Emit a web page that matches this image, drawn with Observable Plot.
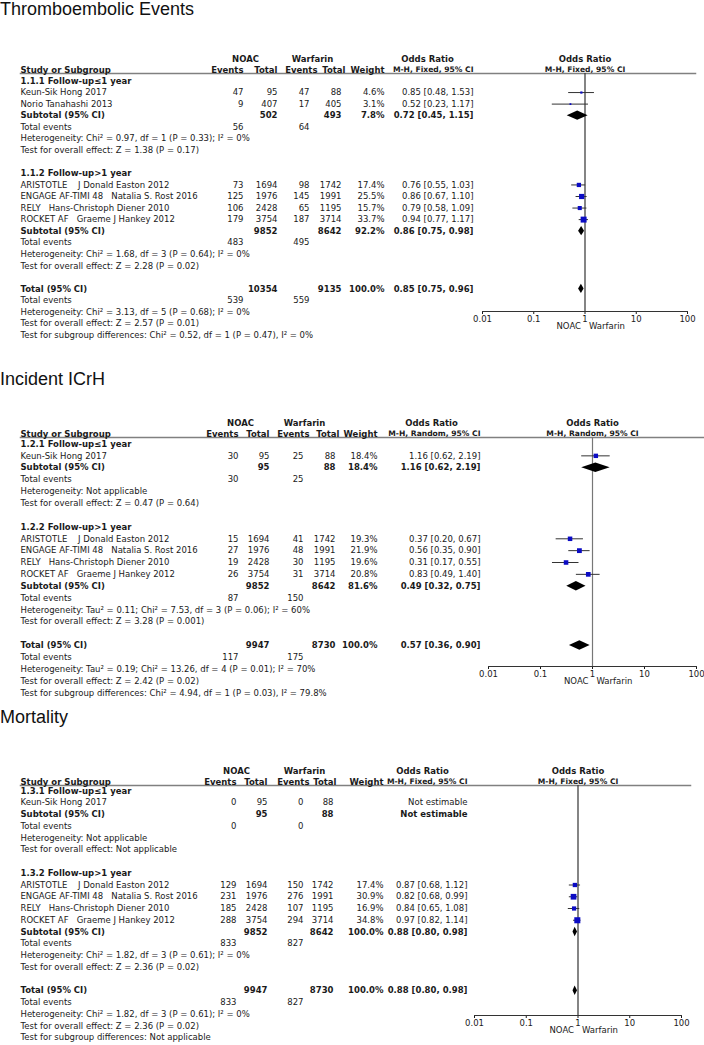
<!DOCTYPE html>
<html><head><meta charset="utf-8">
<script src="https://cdn.jsdelivr.net/npm/d3@7"></script>
<script src="https://cdn.jsdelivr.net/npm/@observablehq/plot@0.6"></script>
<style>
body{margin:0;background:#fff;}
#root{position:relative;width:704px;height:1045px;overflow:hidden;background:#fff;}
.title{position:absolute;left:0;font-family:"Liberation Sans",Arial,sans-serif;font-size:18px;line-height:18px;color:#111;white-space:nowrap;}
svg text{white-space:pre;}
</style></head><body><div id="root"></div><script>
// ---------- shared labels ----------
const TICKS = [0.01, 0.1, 1, 10, 100];
const TICK_LABELS = ["0.01", "0.1", "1", "10", "100"];
const NULL_OR = 1;
const FAVOURS = ["NOAC", "Warfarin"];
const HEAD_TOP = ["NOAC", "Warfarin", "Odds Ratio"];
const HEAD_COLS = ["Study or Subgroup", "Events", "Total", "Events", "Total", "Weight"];

// ---------- Panel 1: Thromboembolic Events ----------
const teTitle = "Thromboembolic Events";
const teMethod = "M-H, Fixed, 95% CI";
const teGroups = ["1.1.1 Follow-up≤1 year", "1.1.2 Follow-up>1 year"];
// [group, study, NOAC events, NOAC total, Warfarin events, Warfarin total, weight %, OR, lower, upper]
const teStudies = [
  [0, "Keun-Sik Hong 2017", 47, 95, 47, 88, 4.6, 0.85, 0.48, 1.53],
  [0, "Norio Tanahashi 2013", 9, 407, 17, 405, 3.1, 0.52, 0.23, 1.17],
  [1, "ARISTOTLE    J Donald Easton 2012", 73, 1694, 98, 1742, 17.4, 0.76, 0.55, 1.03],
  [1, "ENGAGE AF-TIMI 48   Natalia S. Rost 2016", 125, 1976, 145, 1991, 25.5, 0.86, 0.67, 1.10],
  [1, "RELY   Hans-Christoph Diener 2010", 106, 2428, 65, 1195, 15.7, 0.79, 0.58, 1.09],
  [1, "ROCKET AF   Graeme J Hankey 2012", 179, 3754, 187, 3714, 33.7, 0.94, 0.77, 1.17]
];
// [NOAC total, Warfarin total, weight %, OR, lower, upper, NOAC events, Warfarin events]
const teSubtotals = [
  [502, 493, 7.8, 0.72, 0.45, 1.15, 56, 64],
  [9852, 8642, 92.2, 0.86, 0.75, 0.98, 483, 495]
];
const teGroupNotes = [
  ["Heterogeneity: Chi² = 0.97, df = 1 (P = 0.33); I² = 0%", "Test for overall effect: Z = 1.38 (P = 0.17)"],
  ["Heterogeneity: Chi² = 1.68, df = 3 (P = 0.64); I² = 0%", "Test for overall effect: Z = 2.28 (P = 0.02)"]
];
const teTotal = [10354, 9135, 100.0, 0.85, 0.75, 0.96, 539, 559];
const teTotalNotes = [
  "Heterogeneity: Chi² = 3.13, df = 5 (P = 0.68); I² = 0%",
  "Test for overall effect: Z = 2.57 (P = 0.01)",
  "Test for subgroup differences: Chi² = 0.52, df = 1 (P = 0.47), I² = 0%"
];

// ---------- Panel 2: Incident ICrH ----------
const ichTitle = "Incident ICrH";
const ichMethod = "M-H, Random, 95% CI";
const ichGroups = ["1.2.1 Follow-up≤1 year", "1.2.2 Follow-up>1 year"];
const ichStudies = [
  [0, "Keun-Sik Hong 2017", 30, 95, 25, 88, 18.4, 1.16, 0.62, 2.19],
  [1, "ARISTOTLE    J Donald Easton 2012", 15, 1694, 41, 1742, 19.3, 0.37, 0.20, 0.67],
  [1, "ENGAGE AF-TIMI 48   Natalia S. Rost 2016", 27, 1976, 48, 1991, 21.9, 0.56, 0.35, 0.90],
  [1, "RELY   Hans-Christoph Diener 2010", 19, 2428, 30, 1195, 19.6, 0.31, 0.17, 0.55],
  [1, "ROCKET AF   Graeme J Hankey 2012", 26, 3754, 31, 3714, 20.8, 0.83, 0.49, 1.40]
];
const ichSubtotals = [
  [95, 88, 18.4, 1.16, 0.62, 2.19, 30, 25],
  [9852, 8642, 81.6, 0.49, 0.32, 0.75, 87, 150]
];
const ichGroupNotes = [
  ["Heterogeneity: Not applicable", "Test for overall effect: Z = 0.47 (P = 0.64)"],
  ["Heterogeneity: Tau² = 0.11; Chi² = 7.53, df = 3 (P = 0.06); I² = 60%", "Test for overall effect: Z = 3.28 (P = 0.001)"]
];
const ichTotal = [9947, 8730, 100.0, 0.57, 0.36, 0.90, 117, 175];
const ichTotalNotes = [
  "Heterogeneity: Tau² = 0.19; Chi² = 13.26, df = 4 (P = 0.01); I² = 70%",
  "Test for overall effect: Z = 2.42 (P = 0.02)",
  "Test for subgroup differences: Chi² = 4.94, df = 1 (P = 0.03), I² = 79.8%"
];

// ---------- Panel 3: Mortality ----------
const morTitle = "Mortality";
const morMethod = "M-H, Fixed, 95% CI";
const morGroups = ["1.3.1 Follow-up≤1 year", "1.3.2 Follow-up>1 year"];
const morStudies = [
  [0, "Keun-Sik Hong 2017", 0, 95, 0, 88, null, null, null, null],
  [1, "ARISTOTLE    J Donald Easton 2012", 129, 1694, 150, 1742, 17.4, 0.87, 0.68, 1.12],
  [1, "ENGAGE AF-TIMI 48   Natalia S. Rost 2016", 231, 1976, 276, 1991, 30.9, 0.82, 0.68, 0.99],
  [1, "RELY   Hans-Christoph Diener 2010", 185, 2428, 107, 1195, 16.9, 0.84, 0.65, 1.08],
  [1, "ROCKET AF   Graeme J Hankey 2012", 288, 3754, 294, 3714, 34.8, 0.97, 0.82, 1.14]
];
const morSubtotals = [
  [95, 88, null, null, null, null, 0, 0],
  [9852, 8642, 100.0, 0.88, 0.80, 0.98, 833, 827]
];
const morGroupNotes = [
  ["Heterogeneity: Not applicable", "Test for overall effect: Not applicable"],
  ["Heterogeneity: Chi² = 1.82, df = 3 (P = 0.61); I² = 0%", "Test for overall effect: Z = 2.36 (P = 0.02)"]
];
const morTotal = [9947, 8730, 100.0, 0.88, 0.80, 0.98, 833, 827];
const morTotalNotes = [
  "Heterogeneity: Chi² = 1.82, df = 3 (P = 0.61); I² = 0%",
  "Test for overall effect: Z = 2.36 (P = 0.02)",
  "Test for subgroup differences: Not applicable"
];

// ---------- build table rows ----------
function buildRows(groups, studies, subtotals, groupNotes, total, totalNotes) {
  const rows = [];
  const push = r => rows.push({i: rows.length, ...r});
  const orText = (o, l, h) => o == null ? "Not estimable" : `${o.toFixed(2)} [${l.toFixed(2)}, ${h.toFixed(2)}]`;
  const wText = w => w == null ? "" : `${w.toFixed(1)}%`;
  const summary = (label, s) => push({kind: "summary", label, bold: true, n1: s[0], n2: s[1],
    wt: wText(s[2]), or: s[3], lo: s[4], hi: s[5], ort: orText(s[3], s[4], s[5])});
  groups.forEach((g, gi) => {
    push({kind: "group", label: g, bold: true});
    studies.filter(s => s[0] === gi).forEach(s => push({kind: "study", label: s[1], e1: s[2], n1: s[3], e2: s[4], n2: s[5],
      w: s[6], wt: wText(s[6]), or: s[7], lo: s[8], hi: s[9], ort: orText(s[7], s[8], s[9])}));
    summary("Subtotal (95% CI)", subtotals[gi]);
    push({kind: "events", label: "Total events", e1: subtotals[gi][6], e2: subtotals[gi][7]});
    groupNotes[gi].forEach(t => push({kind: "note", label: t}));
    push({kind: "blank"});
  });
  summary("Total (95% CI)", total);
  push({kind: "events", label: "Total events", e1: total[6], e2: total[7]});
  totalNotes.forEach(t => push({kind: "note", label: t}));
  return rows;
}

// ---------- layout (positions & styles) ----------
const FONT = "DejaVu Sans";
const FS = "8.5px";
const HEAD_FS = "7.6px";
const BLUE = "#0b0bc4";
const panels = [
  {title: teTitle, method: teMethod, rows: buildRows(teGroups, teStudies, teSubtotals, teGroupNotes, teTotal, teTotalNotes),
   titleTop: 0, top: 30, height: 315, line: 73, first: 80.5, step: 11.55, axis: 311, lineRight: 695, fx: [482, 687], ref: "#333",
   cols: {study: 20, e1: 243, n1: 277, e2: 309, n2: 341, w: 384, or: 473, he2: 317, hn2: 345, noac: 245, warf: 312, orh: 427}},
  {title: ichTitle, method: ichMethod, rows: buildRows(ichGroups, ichStudies, ichSubtotals, ichGroupNotes, ichTotal, ichTotalNotes),
   titleTop: 370, top: 400, height: 300, line: 437, first: 443.5, step: 11.85, axis: 666, lineRight: 703, fx: [488, 696], ref: "#777",
   cols: {study: 20, e1: 238, n1: 269, e2: 303, n2: 335, w: 377, or: 480, he2: 309, hn2: 339, noac: 240, warf: 304, orh: 431}},
  {title: morTitle, method: morMethod, rows: buildRows(morGroups, morStudies, morSubtotals, morGroupNotes, morTotal, morTotalNotes),
   titleTop: 708, top: 740, height: 305, line: 785, first: 790.5, step: 11.75, axis: 1015, lineRight: 690, fx: [474, 681], ref: "#333",
   cols: {study: 20, e1: 236, n1: 267, e2: 303, n2: 333, w: 383, or: 467, he2: 309, hn2: 336, noac: 236, warf: 304, orh: 422}}
];

const root = document.getElementById("root");

function drawPanel(P) {
  const rows = P.rows;
  const t = document.createElement("div");
  t.className = "title";
  t.textContent = P.title;
  t.style.top = P.titleTop + "px";
  root.appendChild(t);

  const n = rows.length;
  const yOpt = {domain: [0, n - 1], range: [P.first - P.top, P.first - P.top + (n - 1) * P.step], axis: null};
  const keys = Object.keys(P.cols);
  const style = {fontFamily: FONT, fontSize: FS, color: "#1a1a1a", background: "transparent", overflow: "visible"};

  // ----- table -----
  const textCols = [["study", "label", "start"], ["e1", "e1", "end"], ["n1", "n1", "end"], ["e2", "e2", "end"],
                    ["n2", "n2", "end"], ["w", "wt", "end"], ["or", "ort", "end"]];
  const tmarks = [Plot.frame({anchor: "top", stroke: "#808080", strokeWidth: 1.5})];
  for (const [key, field, anchor] of textCols) {
    for (const bold of [false, true]) {
      const data = rows.filter(d => d[field] != null && d[field] !== "" && !!d.bold === bold);
      if (data.length) tmarks.push(Plot.text(data, {x: () => key, y: "i", text: d => String(d[field]),
        textAnchor: anchor, fontWeight: bold ? "bold" : "normal"}));
    }
  }
  tmarks.push(Plot.text(HEAD_TOP, {x: ["noac", "warf", "orh"], text: d => d, frameAnchor: "top", dy: -18, fontWeight: "bold"}));
  tmarks.push(Plot.text([HEAD_COLS[0]], {x: ["study"], text: d => d, frameAnchor: "top", dy: -6.5, textAnchor: "start", fontWeight: "bold"}));
  tmarks.push(Plot.text(HEAD_COLS.slice(1), {x: ["e1", "n1", "he2", "hn2", "w"], text: d => d,
    frameAnchor: "top", dy: -6.5, textAnchor: "end", fontWeight: "bold"}));
  tmarks.push(Plot.text([P.method], {x: ["or"], text: d => d, frameAnchor: "top", dy: -6.5, textAnchor: "end",
    fontWeight: "bold", fontSize: HEAD_FS}));

  const table = Plot.plot({
    width: 704, height: P.height,
    marginTop: P.line - P.top, marginBottom: 0, marginLeft: P.cols.study, marginRight: 704 - P.lineRight,
    x: {type: "ordinal", domain: keys, range: keys.map(k => P.cols[k]), axis: null},
    y: yOpt,
    style,
    marks: tmarks
  });
  table.style.position = "absolute";
  table.style.left = "0px";
  table.style.top = P.top + "px";
  root.appendChild(table);

  // ----- forest -----
  const m = 14;
  const studies = rows.filter(d => d.kind === "study" && d.or != null);
  const diamonds = rows.filter(d => d.kind === "summary" && d.or != null).flatMap(d => [
    {id: d.i, y: d.i - 0.4, x1: d.or, x2: d.or},
    {id: d.i, y: d.i, x1: d.lo, x2: d.hi},
    {id: d.i, y: d.i + 0.4, x1: d.or, x2: d.or}
  ]);
  const forest = Plot.plot({
    width: P.fx[1] - P.fx[0] + 2 * m, height: P.height,
    marginLeft: m, marginRight: m, marginTop: P.line - P.top, marginBottom: P.top + P.height - P.axis,
    x: {type: "log", domain: [TICKS[0], TICKS[TICKS.length - 1]], ticks: TICKS,
        tickFormat: d => TICK_LABELS[TICKS.indexOf(d)], tickSize: 3, tickPadding: 1, label: null},
    y: yOpt,
    r: {type: "sqrt", domain: [0, 100], range: [0, 5.8]},
    style,
    marks: [
      Plot.ruleX([NULL_OR], {stroke: P.ref, strokeWidth: 1.2}),
      Plot.frame({anchor: "bottom", stroke: "#333"}),
      Plot.ruleY(studies, {y: "i", x1: "lo", x2: "hi", stroke: "#333", strokeWidth: 1}),
      Plot.dot(studies, {x: "or", y: "i", r: "w", symbol: "square", fill: BLUE, stroke: "none"}),
      Plot.areaX(diamonds, {y: "y", x1: "x1", x2: "x2", z: "id", fill: "#000"}),
      Plot.text([HEAD_TOP[2]], {text: d => d, frameAnchor: "top", dy: -18, fontWeight: "bold"}),
      Plot.text([P.method], {text: d => d, frameAnchor: "top", dy: -6.5, fontWeight: "bold", fontSize: HEAD_FS}),
      Plot.text([FAVOURS[0]], {x: () => NULL_OR, text: d => d, frameAnchor: "bottom", dy: 17, dx: -4, textAnchor: "end"}),
      Plot.text([FAVOURS[1]], {x: () => NULL_OR, text: d => d, frameAnchor: "bottom", dy: 17, dx: 4, textAnchor: "start"})
    ]
  });
  forest.style.position = "absolute";
  forest.style.left = (P.fx[0] - m) + "px";
  forest.style.top = P.top + "px";
  root.appendChild(forest);
}

panels.forEach(drawPanel);
</script></body></html>
